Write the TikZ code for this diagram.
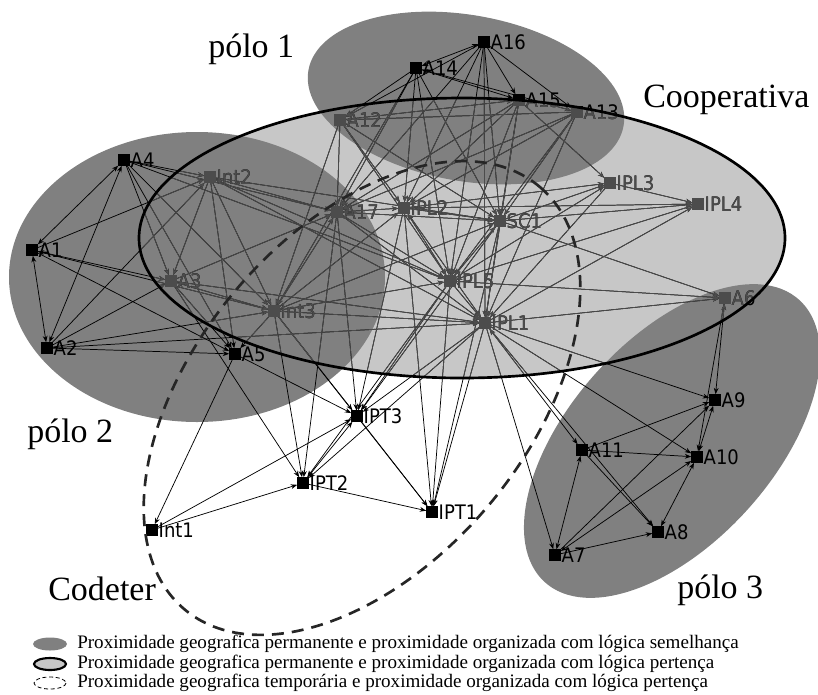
\documentclass[tikz,border=0pt]{standalone}
\usepackage{fontspec}
\setmainfont{Liberation Serif}
\newfontfamily\lblfont{DejaVu Sans Condensed}
\usetikzlibrary{arrows.meta}

\colorlet{netcol}{black}

\tikzset{
  vtx/.style={rectangle,fill=netcol,inner sep=0pt,minimum size=8.3pt},
  lbl/.style={font=\lblfont\fontsize{15}{15}\selectfont,text=netcol,inner sep=0.5pt},
  edge/.style={draw=netcol,line width=0.55pt,->},
  twoway/.style={draw=netcol,line width=0.55pt,<->},
  pole/.style={fill=black!50},
  biglbl/.style={font=\fontsize{25.5}{25.5}\selectfont,anchor=base west,inner sep=0pt},
  legtext/.style={font=\fontsize{14.3}{14.3}\selectfont,anchor=west,inner sep=0pt},
}

\newcommand{\drawnet}{%
  \foreach \n/\x/\y/\lab in {a16/484/42/A16, a14/416/68/A14, a15/519/100/A15,
      a13/577/112/A13, a12/340/120/A12, a4/124/160/A4, int2/210/177/Int2,
      a17/337/212/A17, ipl2/404/208/IPL2, sc1/500/221/SC1, ipl3/610/183/IPL3,
      ipl4/698/204/IPL4, a1/32/250/A1, a3/171/281/A3, int3/274/311/Int3,
      ipl5/450/281/IPL5, ipl1/485/323/IPL1, a6/725/298/A6, a2/47/348/A2,
      a5/235/354/A5, ipt3/357/416/IPT3, ipt2/303/483/IPT2, ipt1/432/512/IPT1,
      int1/152/530/Int1, a9/715/400/A9, a11/582/450/A11, a10/697/457/A10,
      a8/658/532/A8, a7/555/555/A7}
    \node[vtx,label={[lbl]right:\lab}] (\n) at (\x,\y) {};
  \foreach \s/\d in {a16/a12, a16/a17, a16/ipl2, a16/sc1, a16/ipl5, a16/ipl1,
      a16/a15, a16/a13, a14/a12, a14/a17, a14/ipl2, a14/sc1, a14/ipl5, a14/a13,
      a14/int3, a12/a17, a12/ipl2, a12/a15, a12/ipl5, a12/sc1, a12/int3,
      a13/a12, a13/ipl2, a13/sc1, a13/a17, a13/ipl5, a13/ipl1,
      a15/ipl2, a15/sc1, a15/a17, a15/ipl5, a15/ipl1, a15/ipl3,
      a4/int2, a4/a17, a4/a3, a4/int3, a4/a5, a4/ipl5,
      a1/int2, a1/int3, a1/a5,
      a2/a5, a2/a3, a2/int2, a2/int3, a2/ipl1,
      int2/a17, int2/a3, int2/int3, int2/a5, int2/ipl5, int2/ipl1, int2/sc1,
      a3/a5, a3/ipl1, a3/a17, a3/ipt2,
      int3/a17, int3/ipl2, int3/sc1, int3/ipl5, int3/ipl1, int3/a5, int3/ipt2,
      int3/ipt3, int3/ipt1,
      a17/sc1, a17/ipl5, a17/ipl1, a17/ipt3, a17/ipt2,
      ipl2/sc1, ipl2/ipl1, ipl2/ipl3, ipl2/ipl4, ipl2/ipt3, ipl2/ipt1,
      sc1/ipl3, sc1/ipl4, sc1/ipl1, sc1/a6, sc1/ipt3, sc1/ipt1,
      ipl3/ipl4, ipl3/ipl1, ipl4/ipl5,
      ipl5/a6, ipl5/ipl1, ipl5/ipt3, ipl5/ipt1, ipl5/ipt2, ipl5/ipl3,
      ipl1/a6, ipl1/a9, ipl1/a10, ipl1/a7, ipl1/ipt3, ipl1/ipt1, ipl1/ipt2,
      ipl1/ipl4, ipl1/a8,
      a6/a10, a11/a10, a11/a9, a11/a8, a7/a8, a7/a9,
      a5/int1, a5/ipt3, int1/ipt3, int1/ipt2, ipt2/ipt1, ipt3/ipt1}
    \draw[edge] (\s) -- (\d);
  \foreach \s/\d in {a16/a14, a14/a15, a4/a1, a4/a2, a1/a2, a1/a3, a3/int3,
      a17/ipl2, ipl2/ipl5, sc1/ipl5, ipl1/a11, a6/a9, a9/a10, a11/a7, a7/a10,
      a10/a8, ipt3/ipt2}
    \draw[twoway] (\s) -- (\d);
}

\begin{document}
\begin{tikzpicture}[x=0.75pt,y=-0.75pt,>={Stealth[length=4.8pt,width=3.6pt]}]
\useasboundingbox (0,0) rectangle (818,694);

\fill[black!22] (462,238) ellipse [x radius=323, y radius=140];
\fill[pole,rotate around={-10:(466,98)}] (466,98) ellipse [x radius=160, y radius=83];
\fill[pole] (197,277) ellipse [x radius=188, y radius=145];
\fill[pole,rotate around={48:(672,441)}] (672,441) ellipse [x radius=190, y radius=102];

\drawnet
\begin{scope}
  \clip (462,238) ellipse [x radius=323, y radius=140];
  \colorlet{netcol}{black!70}
  \drawnet
\end{scope}

\draw[line width=2pt] (462,238) ellipse [x radius=323, y radius=140];
\draw[black!85,line width=2pt,dash pattern=on 9pt off 6pt,rotate around={50:(362,398)}]
  (362,398) ellipse [x radius=276, y radius=166];

\node[biglbl] (pole1) at (208,57) {pólo 1};
\node[biglbl] (pole2) at (27,442) {pólo 2};
\node[biglbl] (pole3) at (677,598) {pólo 3};
\node[biglbl] (coop) at (643,107) {Cooperativa};
\node[biglbl] (codeter) at (48,600) {Codeter};

\fill[black!50] (50,644) ellipse [x radius=17, y radius=6.5];
\draw[line width=1.6pt,fill=black!22] (50,664) ellipse [x radius=16, y radius=6];
\draw[line width=0.6pt,dash pattern=on 3pt off 2pt] (50,683) ellipse [x radius=16, y radius=6];
\node[legtext] (leg1) at (77,644) {Proximidade geografica permanente e proximidade organizada com lógica semelhança};
\node[legtext] (leg2) at (77,664) {Proximidade geografica permanente e proximidade organizada com lógica pertença};
\node[legtext] (leg3) at (77,683) {Proximidade geografica temporária e proximidade organizada com lógica pertença};
\end{tikzpicture}
\end{document}
